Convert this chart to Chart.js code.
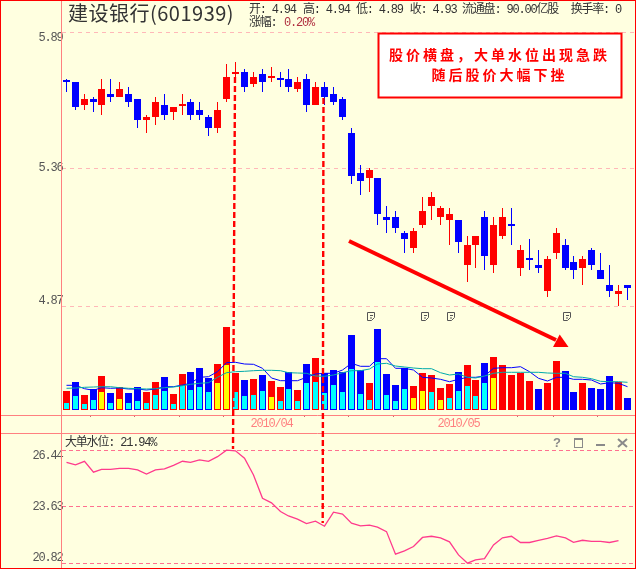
<!DOCTYPE html>
<html>
<head>
<meta charset="utf-8">
<style>html,body{margin:0;padding:0;background:#ffffe0}canvas{display:block}</style>
<script src="https://cdn.jsdelivr.net/npm/chart.js@4"></script>
</head>
<body>
<canvas id="c" width="636" height="569"></canvas>
<script>
const opens=[5.689,5.688,5.598,5.622,5.598,5.640,5.629,5.640,5.622,5.540,5.552,5.598,5.571,5.596,5.610,5.579,5.552,5.510,5.622,5.720,5.727,5.680,5.719,5.705,5.700,5.700,5.660,5.700,5.598,5.668,5.640,5.622,5.491,5.341,5.322,5.322,5.181,5.181,5.124,5.071,5.152,5.220,5.181,5.170,5.170,5.012,5.082,5.181,5.012,5.113,5.152,5.002,5.033,5.012,4.923,5.053,5.082,5.022,5.002,5.064,4.995,4.943,4.913,4.943];
const closes=[5.687,5.590,5.622,5.610,5.660,5.629,5.660,5.610,5.540,5.552,5.610,5.559,5.590,5.598,5.559,5.559,5.510,5.579,5.708,5.727,5.668,5.708,5.688,5.708,5.697,5.668,5.688,5.598,5.668,5.629,5.610,5.552,5.330,5.311,5.352,5.192,5.170,5.142,5.103,5.131,5.202,5.253,5.213,5.192,5.092,5.082,5.113,5.043,5.152,5.181,5.150,5.064,5.030,5.002,5.033,5.124,5.002,4.995,5.033,5.012,4.964,4.923,4.923,4.933];
const highs=[5.699,5.688,5.640,5.629,5.700,5.700,5.688,5.668,5.622,5.559,5.629,5.640,5.590,5.640,5.622,5.610,5.559,5.610,5.759,5.767,5.739,5.727,5.739,5.747,5.727,5.739,5.708,5.719,5.688,5.688,5.668,5.629,5.510,5.370,5.358,5.322,5.220,5.202,5.131,5.142,5.253,5.272,5.220,5.213,5.170,5.113,5.113,5.202,5.181,5.213,5.213,5.082,5.103,5.064,5.043,5.142,5.103,5.043,5.043,5.071,5.053,5.012,4.943,4.943];
const lows=[5.648,5.579,5.579,5.571,5.559,5.610,5.629,5.590,5.510,5.491,5.521,5.540,5.540,5.559,5.540,5.540,5.479,5.491,5.610,5.708,5.648,5.668,5.648,5.688,5.668,5.648,5.648,5.571,5.598,5.598,5.598,5.540,5.301,5.260,5.272,5.152,5.124,5.124,5.053,5.053,5.142,5.170,5.152,5.082,5.053,4.953,5.002,4.995,4.985,5.103,5.082,4.974,4.995,4.985,4.902,5.033,4.995,4.964,4.943,4.995,4.964,4.902,4.872,4.892];
const volumes=[19,28,15,21,34,17,23,17,23,18,28,33,16,36,38,42,32,46,83,37,30,31,35,29,23,38,20,46,52,37,40,38,75,40,27,81,36,25,42,24,37,35,22,26,38,45,30,47,53,45,35,37,29,21,27,49,39,18,27,22,21,34,28,12];
const volumeSides="rbrbrbrbbr"+"rbrrbbbrrr"+"brbrrbrbrb"+"bbbbrbbbbr"+"rrrrbrrbrr"+"rrrbrrbbrb"+"bbrb";
const bigOrders=[7,14,6,10,18,7,11,7,9,7,15,19,6,24,20,23,18,27,45,18,14,15,19,13,9,21,9,27,28,17,25,18,41,16,10,48,15,9,21,12,19,18,10,12,19,24,14,27,32];
const bigOrderKinds="ccccycyccc"+"cccccccyyc"+"cccycccccc"+"cccccccccy"+"ycycccccy";
const maFast=[24.7,24.7,21.3,19.7,22.3,21.7,22,21,21,20,21,23.3,23.3,25,26.7,32.7,33.3,38.3,47.3,47.7,46,45.7,41.7,32,29.3,29.3,29.3,32.7,36,36.7,36.7,40,46.7,43.7,43.7,51.3,51.3,41.7,41.7,40,32.7,32,30.7,28.3,30.7,32.7,32.7,34,41.7,42.3,42.3,43.3,38.3,31.7,29,32.7,32.7,30.7,30.7,30,26,27.3,26.7,23.3];
const maSlow=[21.7,22,22.7,23,23.3,23.3,22.3,21.7,21.3,21,21.3,22.3,23,24.3,25.7,26.7,27.3,32.7,37.3,38.3,38.7,39.3,39.7,39.7,39.3,37.3,37,36.7,34,33.7,35,37.3,39.3,39.3,41,46,46.7,44,43,42,41.3,41.3,37.3,35,36,32.7,32,34,36.7,37.7,37.7,37.7,37.7,37.7,37,36.7,36.7,33.3,32.7,31.3,28.7,28.3,28.3,27.7];
const waterLevel=[25.84,25.71,25.89,25.35,25.49,25.49,25.54,25.54,25.46,25.25,25.46,25.51,25.69,25.89,25.84,25.96,25.89,26.12,26.44,26.41,26.04,25.21,24.05,23.82,23.39,23.17,23.01,22.79,22.91,22.66,23.36,23.26,22.81,22.68,22.71,22.61,22.39,21.27,21.43,21.65,22.10,22.16,22.08,21.88,21.23,20.82,20.98,21.05,21.73,22.08,22.16,21.85,21.85,21.95,22.05,22.18,22.08,21.86,21.96,21.91,21.91,21.85,21.94];
const priceTicks=[5.89,5.36,4.87];
const levelTicks=[26.44,23.63,20.82];
const dateTicks=[2.7,7.7,12.7,17.7,23,26.7,31.7,36.7,44,50.7,54.7,59.7];
const dateLabels={23:"2010/04",44:"2010/05"};

const RED="#ff0000",BLUE="#0000ff",CYAN="#00ffff",YEL="#ffff00",AXIS="#ff8080",MONO="'Liberation Mono','Noto Sans CJK SC'";
const up=opens.map((o,i)=>closes[i]>=o);
const xy=(arr)=>arr.map((v,i)=>({x:i,y:v}));
const noPad=s=>{s.paddingLeft=s.paddingRight=s.paddingTop=s.paddingBottom=0;};
// The reference is drawn on whole pixels: round what the scales return.
const snapTo=(shift)=>(s)=>{
  if(s._snapped) return;
  const f=s.getPixelForValue;
  s.getPixelForValue=function(v,i){return Math.round(f.call(s,v,i)-shift)+shift;};
  s._snapped=true;
};

function edgeLabel(values){
  return (v,i)=>{
    const s=values[i].toFixed(2);
    if(i===0) return ["",s];
    if(i===values.length-1) return [s,""];
    return s;
  };
}
const decor={
  id:"decor",
  beforeDraw(ch){ch.ctx.letterSpacing="-1.2px";},
  afterDraw(ch){
    const c=ch.ctx;c.save();
    c.letterSpacing="0px";c.strokeStyle=AXIS;c.lineWidth=1;
    [415.5,433.5].forEach(y=>{c.beginPath();c.moveTo(0,y);c.lineTo(635,y);c.stroke();});
    c.beginPath();c.moveTo(61.5,0);c.lineTo(61.5,568);c.stroke();
    c.strokeStyle=RED;c.strokeRect(0.5,0.5,635,568);
    c.textBaseline="middle";c.textAlign="left";
    c.fillStyle="#333";c.font="20px 'Noto Sans CJK SC'";c.letterSpacing="0.5px";
    c.fillText("建设银行(601939)",68,13);
    c.font="12px "+MONO;c.letterSpacing="-1.2px";
    [["开: 4.94",249],["高: 4.94",303],["低: 4.89",356],["收: 4.93",409.7],["流通盘: 90.00亿股",462],["换手率: 0",570.7]].forEach(t=>c.fillText(t[0],t[1],9.5));
    c.fillText("涨幅:",249,22.5);
    c.fillStyle="#b03040";c.fillText("0.20%",284,22.5);
    c.fillStyle="#333";c.fillText("大单水位: 21.94%",65,442.5);
    c.letterSpacing="0px";c.strokeStyle="#555";c.lineWidth=1;
    [371,425,451,567].forEach(x=>{
      c.beginPath();c.moveTo(x-3.5,320.5);c.lineTo(x-3.5,312.5);c.lineTo(x+3.5,312.5);c.lineTo(x+3.5,317.5);c.lineTo(x+0.5,320.5);c.closePath();
      c.moveTo(x-1,315.5);c.lineTo(x+2,315.5);c.moveTo(x-1,318);c.lineTo(x+1,318);c.stroke();
    });
    c.fillStyle="#fff";c.fillRect(378,33,244,65);
    c.strokeStyle=RED;c.lineWidth=2;c.strokeRect(378.5,33.5,243,64);
    c.fillStyle=RED;c.font="bold 14px 'Noto Sans CJK SC'";c.textAlign="center";c.letterSpacing="3px";
    c.fillText("股价横盘，大单水位出现急跌",499.5,55);
    c.fillText("随后股价大幅下挫",499.5,75);
    c.letterSpacing="0px";
    c.lineWidth=2.4;c.setLineDash([6,3]);
    [[235,77,233,449],[323.5,98,322.7,523]].forEach(l=>{c.beginPath();c.moveTo(l[0],l[1]);c.lineTo(l[2],l[3]);c.stroke();});
    c.setLineDash([]);
    c.lineWidth=4;c.beginPath();c.moveTo(349,241);c.lineTo(556,340);c.stroke();
    c.beginPath();c.moveTo(559.7,334.5);c.lineTo(568.5,347);c.lineTo(553,347);c.closePath();c.fill();
    c.fillStyle="#8a8a8a";c.strokeStyle="#8a8a8a";c.font="bold 13px 'Liberation Sans'";c.textAlign="center";
    c.fillText("?",557,443);
    c.lineWidth=1;c.strokeRect(574.5,438.5,8,9);c.fillRect(574,438,9,2);
    c.fillRect(596,444,9,2);
    c.lineWidth=2;c.beginPath();c.moveTo(618,439);c.lineTo(627,447);c.moveTo(627,439);c.lineTo(618,447);c.stroke();
    c.restore();
    ch.ctx.letterSpacing="0px";
  }
};
new Chart(document.getElementById("c"),{
  type:"bar",
  plugins:[decor],
  data:{datasets:[
    {type:"bar",order:1,grouped:false,barThickness:7,minBarLength:2,inflateAmount:0,yAxisID:"y",
     data:opens.map((o,i)=>({x:i,y:[o,closes[i]]})),backgroundColor:up.map(u=>u?RED:BLUE),borderWidth:0},
    {type:"bar",order:2,grouped:false,barThickness:1,inflateAmount:0,yAxisID:"y",
     data:lows.map((l,i)=>({x:i,y:[l,highs[i]]})),backgroundColor:up.map(u=>u?RED:BLUE),borderWidth:0},
    {type:"line",order:0,yAxisID:"level",data:xy(waterLevel),borderColor:"#ff3a8c",borderWidth:1.3,pointRadius:0,tension:0},
    {type:"line",order:3,yAxisID:"vol",data:xy(maSlow),borderColor:"#00aaaa",borderWidth:1,pointRadius:0,tension:0},
    {type:"line",order:4,yAxisID:"vol",data:xy(maFast),borderColor:BLUE,borderWidth:1,pointRadius:0,tension:0},
    {type:"bar",order:5,grouped:false,barThickness:5,inflateAmount:0,yAxisID:"vol",
     data:bigOrders.map((v,i)=>({x:i,y:[1,v]})),
     backgroundColor:bigOrders.map((v,i)=>bigOrderKinds[i]==="y"?YEL:CYAN),borderWidth:0},
    {type:"bar",order:6,grouped:false,barThickness:7,inflateAmount:0,yAxisID:"vol",
     data:xy(volumes),backgroundColor:volumes.map((v,i)=>volumeSides[i]==="r"?RED:BLUE),borderWidth:0}
  ]},
  options:{
    responsive:false,animation:false,devicePixelRatio:1,events:[],
    layout:{autoPadding:false,padding:{left:62,right:1,top:1,bottom:3}},
    plugins:{legend:{display:false},tooltip:{enabled:false},title:{display:false}},
    scales:{
      x:{type:"linear",offset:false,min:-0.483,max:63.86,position:{y:4.518},afterFit:noPad,afterDataLimits:snapTo(0.5),
        afterBuildTicks:s=>{s.ticks=dateTicks.map(v=>({value:v}));},
        grid:{offset:false,drawOnChartArea:false,tickLength:2,tickColor:c=>dateLabels[c.tick&&c.tick.value]?"rgba(0,0,0,0)":"#c07070"},
        border:{display:false},
        ticks:{autoSkip:false,maxRotation:0,padding:0,color:AXIS,font:{family:MONO,size:12},callback:v=>dateLabels[v]||""}},
      y:{type:"logarithmic",position:{x:-0.483},min:4.0699,max:6.0156,afterFit:noPad,afterDataLimits:snapTo(0),
        afterBuildTicks:s=>{s.ticks=priceTicks.map(v=>({value:v}));},
        grid:{color:"#ffb8b8",drawTicks:false,tickLength:0},
        border:{display:false,dash:[4,4]},
        ticks:{autoSkip:false,padding:3,color:"#555",font:{family:MONO,size:12,lineHeight:0.92},callback:edgeLabel(priceTicks)}},
      level:{type:"linear",axis:"y",position:{x:-0.483},min:20.68,max:48.79,afterFit:noPad,
        afterBuildTicks:s=>{s.ticks=levelTicks.map(v=>({value:v}));},
        grid:{color:"#ff7090",drawTicks:false,tickLength:0},
        border:{display:false,dash:[4,3]},
        ticks:{autoSkip:false,padding:3,color:"#555",font:{family:MONO,size:12,lineHeight:0.92},callback:edgeLabel(levelTicks)}},
      vol:{type:"linear",display:false,position:"left",min:-156,max:409}
    }
  }
});
</script>
</body>
</html>
